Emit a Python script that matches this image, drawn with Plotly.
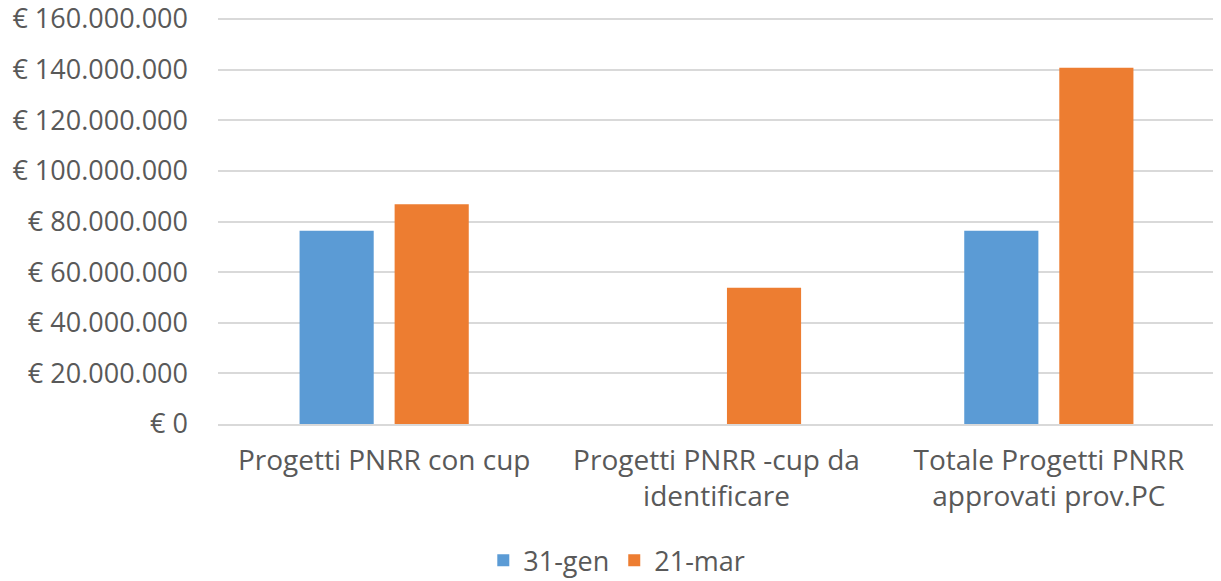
import plotly.graph_objects as go

categories = ["Progetti PNRR con cup", "Progetti PNRR -cup da<br>identificare", "Totale Progetti PNRR<br>approvati prov.PC"]
series_names = ["31-gen", "21-mar"]
values_gen = [76300000, None, 76300000]
values_mar = [86800000, 53800000, 140700000]
tick_vals = [0, 20000000, 40000000, 60000000, 80000000, 100000000, 120000000, 140000000, 160000000]
tick_text = ["€ 0", "€ 20.000.000", "€ 40.000.000", "€ 60.000.000", "€ 80.000.000",
             "€ 100.000.000", "€ 120.000.000", "€ 140.000.000", "€ 160.000.000"]

colors = ["#5B9BD5", "#ED7D31"]
font_fam = "Open Sans, Noto Sans, sans-serif"

fig = go.Figure()
fig.add_trace(go.Bar(x=categories, y=values_gen, name=series_names[0], marker_color=colors[0],
                     marker_line_width=0))
fig.add_trace(go.Bar(x=categories, y=values_mar, name=series_names[1], marker_color=colors[1],
                     marker_line_width=0))

fig.update_layout(
    width=1213, height=573,
    margin=dict(l=210, r=6, t=8, b=157, autoexpand=False),
    paper_bgcolor="white", plot_bgcolor="white",
    barmode="group", bargap=0.428, bargroupgap=0.22,
    font=dict(family=font_fam, size=27, color="#595959"),
    showlegend=True,
    legend=dict(orientation="h", x=0.40, xanchor="center", y=-0.335, yanchor="middle",
                font=dict(size=27, color="#595959"), itemwidth=30, traceorder="normal"),
    xaxis=dict(showgrid=False, showline=True, linecolor="#D9D9D9", linewidth=2,
               tickfont=dict(size=28, color="#595959"), ticks="", ticklabelstandoff=10,
               automargin=False),
    yaxis=dict(range=[0, 161185000], tickvals=tick_vals, ticktext=tick_text,
               showgrid=True, gridcolor="#D9D9D9", gridwidth=2, zeroline=False,
               tickfont=dict(size=27, color="#595959"), ticks="", ticklabelstandoff=29,
               ticklabeloverflow="allow",
               fixedrange=True, automargin=False),
)

fig.write_html("out.html")
